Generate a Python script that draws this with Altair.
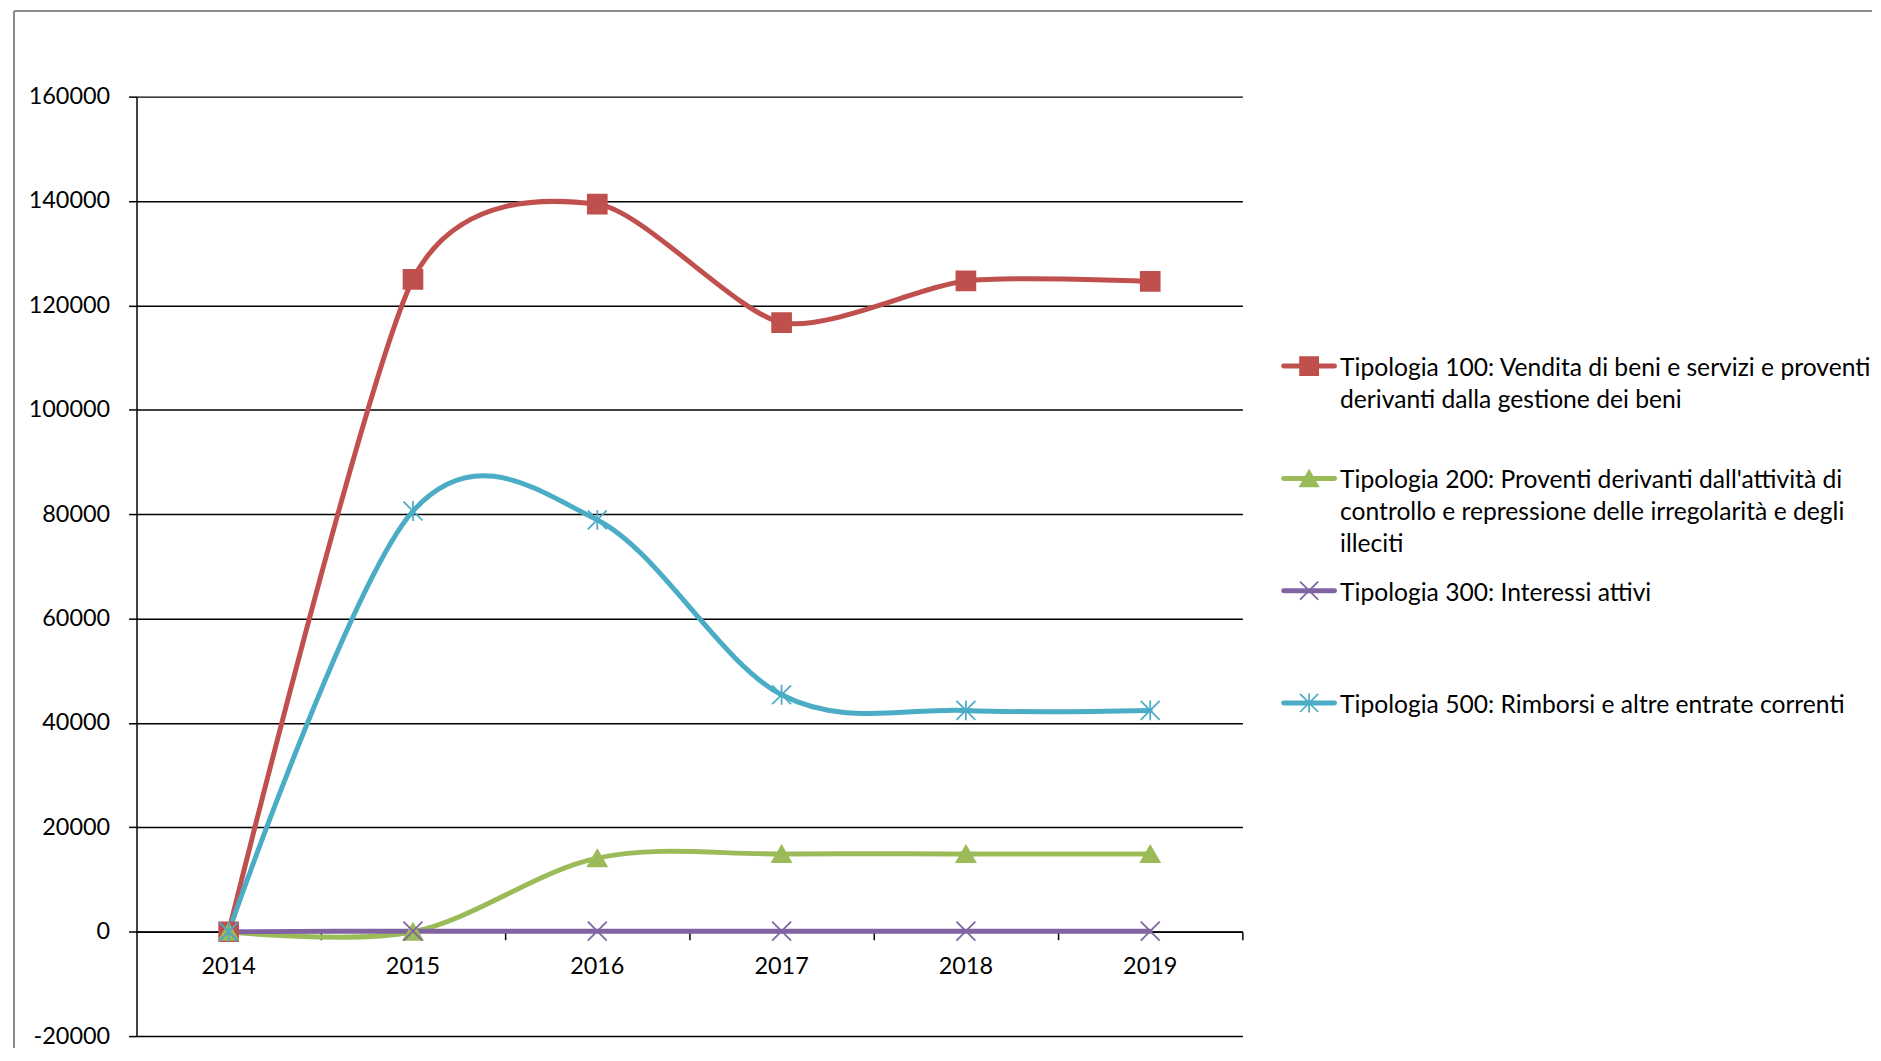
import altair as alt
import pandas as pd

# ---------------- data ----------------
years = ["2014", "2015", "2016", "2017", "2018", "2019"]

series_names = [
    "Tipologia 100",
    "Tipologia 200",
    "Tipologia 300",
    "Tipologia 500",
]
legend_labels = [
    "Tipologia 100: Vendita di beni e servizi e proventi|derivanti dalla gestione dei beni",
    "Tipologia 200: Proventi derivanti dall'attività di|controllo e repressione delle irregolarità e degli|illeciti",
    "Tipologia 300: Interessi attivi",
    "Tipologia 500: Rimborsi e altre entrate correnti",
]

t100 = [0, 125000, 139400, 116700, 124700, 124600]
t200 = [0, 0, 14100, 14900, 14900, 14900]
t300 = [0, 100, 100, 100, 100, 100]
t500 = [0, 80600, 78900, 45400, 42400, 42400]

y_ticks = [-20000, 0, 20000, 40000, 60000, 80000, 100000, 120000, 140000, 160000]

colors = ["#C0504D", "#9BBB59", "#8064A2", "#4BACC6"]
shapes = [
    "M-1,-1L1,-1L1,1L-1,1Z",
    "M0,-0.87L1,0.87L-1,0.87Z",
    "M-1,-1L1,1M-1,1L1,-1",
    "M-1,-1L1,1M-1,1L1,-1M0,-1.05L0,1.05",
]
# smoothing tension per series (Excel limits the tangent on short segments)
tensions = [0.27, 0.0, 0.0, 0.0]

rows = []
for s, vals in zip(series_names, [t100, t200, t300, t500]):
    for yr, v in zip(years, vals):
        rows.append({"anno": yr, "serie": s, "valore": v})
df = pd.DataFrame(rows)

leg_df = pd.DataFrame({
    "serie": series_names,
    "etichetta": legend_labels,
    "pos": list(range(len(series_names))),
})

# ---------------- layout ----------------
W, H = 1110, 943
Y_MIN, Y_MAX = -20000, 160000
x_axis_offset = -H * (0 - Y_MIN) / (Y_MAX - Y_MIN)
FONT = "Lato"
FS_AX = 23.5
FS_LEG = 24.75

LEG_FIRST = 270.5   # px from plot top to first legend entry
LEG_STEP = 112.7    # px between legend entries
leg_d0 = -LEG_FIRST / LEG_STEP
leg_d1 = leg_d0 + H / LEG_STEP

xscale = alt.Scale(type="band", domain=years, paddingInner=0, paddingOuter=0)
yscale = alt.Scale(domain=[Y_MIN, Y_MAX], nice=False, zero=False)
color_scale = alt.Scale(domain=series_names, range=colors)
shape_scale = alt.Scale(domain=series_names, range=shapes)

label_axis = alt.Axis(
    title=None, orient="bottom", offset=x_axis_offset, labelAngle=0,
    ticks=False, tickSize=0, domain=False, grid=False, labelPadding=23,
    labelFontSize=FS_AX, labelFont=FONT, labelColor="black",
)
tick_axis = alt.Axis(
    title=None, orient="bottom", offset=x_axis_offset, labels=False,
    ticks=True, tickSize=8, tickWidth=1.5, tickColor="black",
    domain=True, domainColor="black", domainWidth=1.5,
    bandPosition=1, grid=False,
)
y_axis = alt.Axis(
    title=None, values=y_ticks,
    labelExpr="datum.value < 0 ? '-' + abs(datum.value) : '' + datum.value",
    grid=True, gridColor="black",
    gridWidth=1.5, gridOpacity=1, tickSize=8, tickColor="black", tickWidth=1.5,
    domain=True, domainColor="black", domainWidth=1.5, labelPadding=19,
    labelFontSize=FS_AX, labelFont=FONT, labelColor="black",
)

line_layers = []
for i, (name, ten) in enumerate(zip(series_names, tensions)):
    line_layers.append(
        alt.Chart(df).transform_filter(alt.datum.serie == name).mark_line(
            interpolate="cardinal", tension=ten, strokeWidth=5,
            strokeCap="round", strokeJoin="round",
        ).encode(
            x=alt.X("anno:N", scale=xscale, axis=label_axis if i == 0 else None),
            y=alt.Y("valore:Q", scale=yscale, axis=y_axis),
            color=alt.Color("serie:N", scale=color_scale, legend=None),
        )
    )

points = alt.Chart(df).mark_point(
    filled=True, size=361, strokeWidth=1.75, opacity=1
).encode(
    x=alt.X("anno:N", scale=xscale, axis=tick_axis),
    y=alt.Y("valore:Q", scale=yscale, axis=y_axis),
    shape=alt.Shape("serie:N", scale=shape_scale, legend=None),
    fill=alt.Fill("serie:N", scale=color_scale, legend=None),
    stroke=alt.Stroke("serie:N", scale=color_scale, legend=None),
)

frame_df = pd.DataFrame({"cornice": [0]})
frame_top = alt.Chart(frame_df).mark_rule(color="#8a8a8a", strokeWidth=2).encode(
    x=alt.value(-123), x2=alt.value(1742), y=alt.value(-86)
)
frame_left = alt.Chart(frame_df).mark_rule(color="#8a8a8a", strokeWidth=2).encode(
    x=alt.value(-123), y=alt.value(-86), y2=alt.value(955)
)

main = alt.layer(frame_top, frame_left, *line_layers, points).resolve_axis(
    x="independent"
).properties(width=W, height=H)

# ---------------- legend panel ----------------
leg_y = alt.Y("pos:Q", scale=alt.Scale(domain=[leg_d0, leg_d1], reverse=True, nice=False, zero=False), axis=None)

leg_base = alt.Chart(leg_df)
leg_lines = leg_base.mark_rule(strokeWidth=5, strokeCap="round").encode(
    x=alt.value(2.5), x2=alt.value(53.5), y=leg_y,
    color=alt.Color("serie:N", scale=color_scale, legend=None),
)
leg_points = leg_base.mark_point(filled=True, size=330, strokeWidth=1.75, opacity=1).encode(
    x=alt.value(28), y=leg_y,
    shape=alt.Shape("serie:N", scale=shape_scale, legend=None),
    fill=alt.Fill("serie:N", scale=color_scale, legend=None),
    stroke=alt.Stroke("serie:N", scale=color_scale, legend=None),
)
leg_text = leg_base.transform_calculate(
    righe="split(datum.etichetta, '|')"
).mark_text(
    align="left", baseline="top", dy=-10, fontSize=FS_LEG, lineHeight=32,
    font=FONT, color="black",
).encode(
    x=alt.value(59), y=leg_y, text="righe:N",
)

legend_panel = alt.layer(leg_lines, leg_points, leg_text).properties(width=560, height=H)

chart = alt.hconcat(main, legend_panel, spacing=39, bounds="flush").properties(
    padding={"left": 5, "top": 0, "right": 0, "bottom": 0},
    background="white",
).configure_view(stroke=None)

chart.save("out.html", embed_options={"renderer": "svg", "actions": False})
